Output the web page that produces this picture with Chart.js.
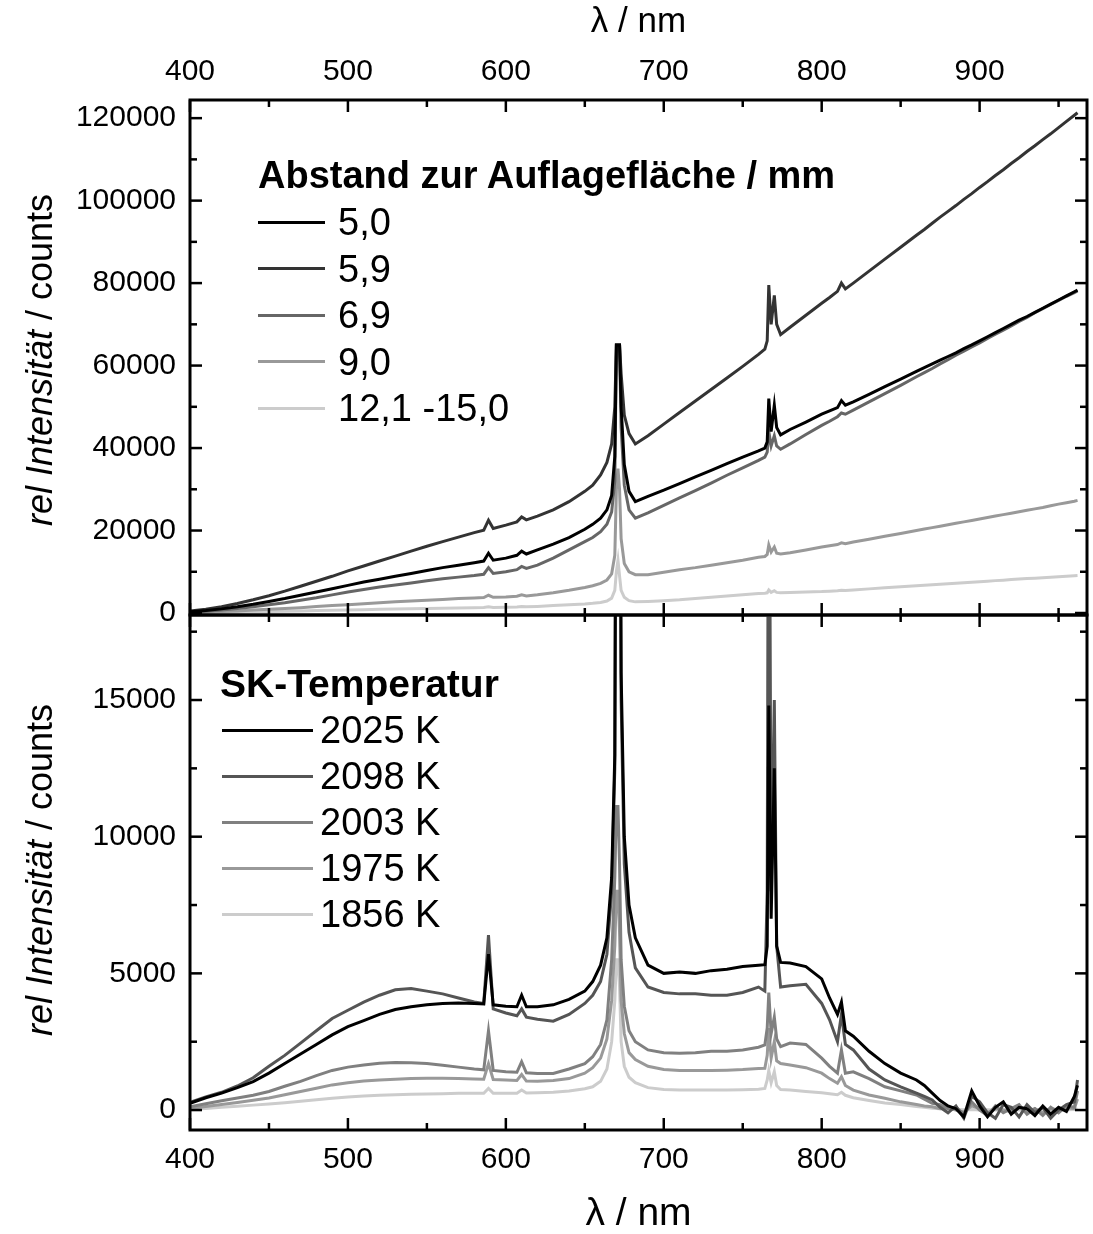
<!DOCTYPE html>
<html><head><meta charset="utf-8">
<script src="https://cdn.jsdelivr.net/npm/chart.js@4.4.1/dist/chart.umd.min.js"></script>
<style>
html,body{margin:0;padding:0;background:#fff;}
#wrap{position:relative;width:1093px;height:1234px;overflow:hidden;font-family:"Liberation Sans",Arial,sans-serif;color:#000;}
canvas{position:absolute;left:0;top:0;}
.ytitle{position:absolute;white-space:nowrap;font-size:36px;line-height:1;transform:translate(-50%,-50%) rotate(-90deg);}
.lt{position:absolute;white-space:nowrap;line-height:1;}
.ll{position:absolute;height:3px;}
</style></head><body>
<div id="wrap">
<canvas id="cTop" width="1093" height="1234"></canvas>
<canvas id="cBot" width="1093" height="1234"></canvas>
<div class="ytitle" style="left:40px;top:360px"><i>rel Intensität</i> / counts</div>
<div class="ytitle" style="left:40px;top:870px"><i>rel Intensität</i> / counts</div>
</div>
<script>
// ---------- data ----------
const wavelengths = [400,410,420,430,440,450,460,470,480,490,
500,510,520,530,540,550,560,570,580,586,
589,592,600,607,610,613,620,630,640,650,
655,660,664,667,669,670,671,672,673,675,
678,682,690,700,710,720,730,740,750,760,
764,765.5,766.5,768,770,771.5,774,780,790,800,
805,810,812.5,815,820,830,840,850,860,865,
870,875,880,885,890,895,900,905,910,915,
920,925,930,935,940,945,950,955,960,962];

// top panel: Abstand zur Auflagefläche / mm
const dist50 = [300,600,1000,1500,2100,2800,3500,4300,5100,5900,
6700,7500,8200,8900,9600,10300,11000,11600,12200,12600,
14500,12800,13300,14000,15000,14300,15300,16700,18300,20300,
21500,23000,25000,28500,38000,65000,65000,65000,50000,36000,
29500,27000,28300,29800,31400,33000,34600,36200,37800,39300,
40000,41500,52000,44000,50400,45000,43200,44500,46300,48200,
49000,49800,51500,50400,51200,53000,54900,56700,58600,59500,
60400,61300,62200,63100,64100,65000,66000,67000,68000,69000,
70000,71000,71900,72900,73900,74900,75900,76900,77900,78300];
const dist59 = [500,900,1500,2300,3200,4200,5300,6500,7700,8900,
10200,11400,12600,13800,15000,16200,17300,18400,19500,20100,
22500,20500,21300,22100,23300,22600,23500,25000,27000,29500,
31000,33500,36500,41000,50000,65000,65000,65000,58000,48000,
43500,41000,43000,45800,48600,51400,54200,57000,59800,62700,
64000,66000,79500,70000,77000,70000,67500,69300,72200,75100,
76500,78000,80000,78600,80000,82900,85800,88700,91600,93000,
94500,96000,97400,98800,100300,101700,103200,104600,106100,107500,
109000,110400,111900,113300,114800,116200,117700,119200,120700,121300];
const dist69 = [200,400,700,1100,1500,2000,2500,3100,3700,4400,
5100,5700,6300,6800,7300,7800,8300,8700,9100,9400,
11000,9600,10000,10500,11300,10800,11600,13300,15300,17300,
18300,19700,21500,24500,32000,65000,65000,65000,45000,31000,
25000,23000,24300,26100,27900,29700,31500,33400,35200,37000,
37800,39000,44000,40500,43000,40500,39700,41000,43300,45500,
46500,47600,48500,48200,49200,51200,53200,55200,57300,58300,
59300,60400,61400,62500,63500,64500,65500,66600,67600,68600,
69600,70700,71700,72800,73800,74800,75800,76800,77700,78100];
const dist90 = [100,200,350,500,700,900,1100,1300,1550,1800,
2000,2250,2500,2700,2900,3100,3300,3500,3650,3750,
4300,3800,3900,4050,4400,4150,4400,4900,5500,6200,
6600,7200,8000,9500,14000,30000,35000,30000,18000,12000,
10000,9300,9300,9900,10500,11000,11600,12200,12800,13500,
13700,14200,16500,14800,16000,14500,14300,14600,15300,16000,
16300,16600,17000,16800,17200,17900,18600,19300,20000,20350,
20700,21050,21400,21750,22100,22450,22800,23150,23500,23850,
24200,24550,24900,25250,25600,26000,26400,26750,27100,27300];
const dist121 = [50,100,150,200,280,350,430,500,580,650,
730,800,880,950,1020,1100,1170,1240,1300,1340,
1500,1360,1420,1480,1560,1500,1600,1800,2000,2200,
2350,2550,2900,3600,5500,10000,12800,9000,5500,3800,
3000,2700,2800,3000,3200,3500,3800,4100,4400,4700,
4800,4900,5600,5000,5400,5000,4900,5000,5100,5200,
5300,5400,5500,5450,5600,5850,6100,6350,6600,6720,
6850,6970,7100,7220,7350,7470,7600,7720,7850,7970,
8100,8220,8350,8450,8550,8680,8800,8920,9050,9100];

// bottom panel: SK-Temperatur
const temp2025 = [250,450,620,820,1040,1350,1700,2050,2400,2750,
3050,3270,3500,3680,3780,3850,3900,3920,3900,3880,
5700,3850,3800,3780,4200,3780,3780,3850,4050,4350,
4700,5300,6300,8500,13000,30000,30000,30000,16000,10000,
7500,6300,5300,5000,5050,5000,5100,5150,5250,5300,
5320,6000,14800,7000,12500,6000,5400,5380,5250,4800,
4100,3500,3950,2900,2700,2150,1700,1350,1100,900,
620,350,150,50,-250,700,150,-250,100,300,
-150,100,50,-200,150,-150,100,-50,500,900];
const temp2098 = [280,480,650,880,1180,1600,2000,2450,2900,3350,
3650,3950,4200,4400,4450,4350,4250,4100,3950,3900,
6400,3700,3550,3450,3700,3400,3320,3250,3500,3900,
4200,4700,5700,8000,12500,30000,30000,30000,15000,9000,
6500,5200,4500,4300,4250,4250,4200,4200,4300,4500,
4350,8000,30000,8000,15000,6000,4500,4550,4600,3900,
3300,2500,3500,2400,2200,1500,1100,850,620,500,
370,100,-100,150,-300,500,300,-100,-300,200,
100,-250,200,-100,100,-300,0,200,300,1100];
const temp2003 = [120,230,340,440,540,680,870,1050,1260,1450,
1570,1650,1710,1740,1730,1700,1640,1570,1500,1470,
2900,1450,1400,1380,1770,1360,1340,1340,1500,1700,
1950,2400,3300,5500,8500,11100,11100,9000,5500,3800,
2900,2500,2200,2100,2080,2100,2150,2150,2200,2300,
2380,3000,4300,2800,3400,2600,2320,2450,2400,1900,
1600,1350,2200,1350,1400,1150,850,700,550,400,
250,200,50,100,-150,300,0,-200,150,-100,
50,200,-150,50,-200,100,-100,150,100,700];
const temp1975 = [60,130,200,280,360,440,560,680,800,920,
1000,1060,1100,1130,1150,1160,1160,1150,1140,1130,
1700,1120,1100,1080,1300,1060,1050,1080,1150,1350,
1550,1900,2600,4000,6000,8000,8000,6500,4000,2800,
2100,1850,1600,1480,1450,1450,1450,1460,1480,1520,
1530,2000,3000,1900,2500,1800,1700,1650,1550,1350,
1150,980,1220,900,730,550,430,300,200,150,
120,50,80,0,-80,150,50,-100,50,0,
-50,100,-50,50,-100,50,0,80,50,400];
const temp1856 = [30,60,100,140,180,220,270,320,380,430,
480,510,540,560,580,590,600,610,610,610,
790,610,610,615,730,620,630,650,700,780,
850,1050,1500,2500,4000,5500,5500,4500,2500,1600,
1200,1000,820,750,730,730,730,730,740,760,
790,1100,1450,1000,1400,900,750,730,680,630,
600,560,650,540,450,350,260,200,130,100,
70,50,30,20,10,20,0,10,0,10,
0,10,0,0,10,0,0,10,20,50];

const distTitle = 'Abstand zur Auflagefläche / mm';
const distLabels = ['5,0','5,9','6,9','9,0','12,1 -15,0'];
const distSeries = [dist50, dist59, dist69, dist90, dist121];
const distColors = ['#000000','#333333','#666666','#999999','#cccccc'];

const tempTitle = 'SK-Temperatur';
const tempLabels = ['2025 K','2098 K','2003 K','1975 K','1856 K'];
const tempSeries = [temp2025, temp2098, temp2003, temp1975, temp1856];
const tempColors = ['#000000','#555555','#808080','#999999','#cccccc'];

const xMajorTicks = [400,500,600,700,800,900];
const xMinorTicks = [450,550,650,750,850,950];
const topMajorTicks = [0,20000,40000,60000,80000,100000,120000];
const topMinorTicks = [10000,30000,50000,70000,90000,110000];
const botMajorTicks = [0,5000,10000,15000];
const botMinorTicks = [2500,7500,12500,17500];
const xTitle = 'λ / nm';

// ---------- rendering ----------
Chart.defaults.font.family = '"Liberation Sans", Arial, sans-serif';
Chart.defaults.color = '#000';

const axisFrame = {
  id: 'axisFrame',
  afterDraw(chart, args, o) {
    const {ctx, chartArea: a} = chart;
    const xs = chart.scales.x, ys = chart.scales.y;
    ctx.save();
    ctx.strokeStyle = '#000';
    ctx.lineWidth = 2.5;
    const seg = (x1,y1,x2,y2)=>{ctx.beginPath();ctx.moveTo(x1,y1);ctx.lineTo(x2,y2);ctx.stroke();};
    const xt = (vals,len)=>vals.forEach(v=>{const p=xs.getPixelForValue(v); if(p<a.left-1||p>a.right+1)return; seg(p,a.top,p,a.top+len); seg(p,a.bottom,p,a.bottom-len);});
    const yt = (vals,len)=>vals.forEach(v=>{const p=ys.getPixelForValue(v); if(p<a.top-1||p>a.bottom+1)return; seg(a.left,p,a.left+len,p); seg(a.right,p,a.right-len,p);});
    xt(o.xMajor,12); xt(o.xMinor,7); yt(o.yMajor,12); yt(o.yMinor,7);
    ctx.lineWidth = 3;
    ctx.strokeRect(a.left, a.top, a.right-a.left, a.bottom-a.top);
    ctx.restore();
  }
};

function makeDatasets(series, labels, colors) {
  return series.map((vals, i) => ({
    label: labels[i],
    data: wavelengths.map((x, j) => ({x, y: vals[j]})),
    borderColor: colors[i],
    backgroundColor: colors[i],
    borderWidth: 3,
    pointRadius: 0,
    tension: 0,
    fill: false
  }));
}

const numCb = v => String(v);
const fixTicks = list => s => { s.ticks = list.map(v => ({value: v})); };

new Chart(document.getElementById('cTop'), {
  type: 'line',
  data: { datasets: makeDatasets(distSeries, distLabels, distColors) },
  options: {
    responsive: false, animation: false, events: [], devicePixelRatio: 1,
    layout: { padding: { left: 0, right: 6, top: 0, bottom: 619 } },
    plugins: { legend: { display: false }, tooltip: { enabled: false },
      axisFrame: { xMajor: xMajorTicks, xMinor: xMinorTicks, yMajor: topMajorTicks, yMinor: topMinorTicks } },
    scales: {
      x: { type: 'linear', position: 'top', min: 400, max: 968,
        grid: { display: false, drawTicks: false }, border: { display: false },
        ticks: { autoSkip: false, maxRotation: 0, padding: 13, callback: numCb,
          font: { size: 30, lineHeight: 1 }, color: '#000' },
        afterBuildTicks: fixTicks(xMajorTicks),
        title: { display: true, text: xTitle, font: { size: 35, lineHeight: 1 }, padding: { top: 5, bottom: 0 }, color: '#000' },
        afterFit: s => { s.height = 100; } },
      y: { type: 'linear', min: -485, max: 124400,
        grid: { display: false, drawTicks: false }, border: { display: false },
        ticks: { autoSkip: false, padding: 14, callback: numCb,
          font: { size: 30, lineHeight: 1 }, color: '#000' },
        afterBuildTicks: fixTicks(topMajorTicks),
        afterFit: s => { s.width = 190; } }
    }
  },
  plugins: [axisFrame]
});

new Chart(document.getElementById('cBot'), {
  type: 'line',
  data: { datasets: makeDatasets(tempSeries, tempLabels, tempColors) },
  options: {
    responsive: false, animation: false, events: [], devicePixelRatio: 1,
    layout: { padding: { left: 0, right: 6, top: 615, bottom: 0 } },
    plugins: { legend: { display: false }, tooltip: { enabled: false },
      axisFrame: { xMajor: xMajorTicks, xMinor: xMinorTicks, yMajor: botMajorTicks, yMinor: botMinorTicks } },
    scales: {
      x: { type: 'linear', position: 'bottom', min: 400, max: 968,
        grid: { display: false, drawTicks: false }, border: { display: false },
        ticks: { autoSkip: false, maxRotation: 0, padding: 15, callback: numCb,
          font: { size: 30, lineHeight: 1 }, color: '#000' },
        afterBuildTicks: fixTicks(xMajorTicks),
        title: { display: true, text: xTitle, font: { size: 39, lineHeight: 1 }, padding: { top: 0, bottom: 0 }, color: '#000' },
        afterFit: s => { s.height = 104; } },
      y: { type: 'linear', min: -730, max: 18110,
        grid: { display: false, drawTicks: false }, border: { display: false },
        ticks: { autoSkip: false, padding: 14, callback: numCb,
          font: { size: 30, lineHeight: 1 }, color: '#000' },
        afterBuildTicks: fixTicks(botMajorTicks),
        afterFit: s => { s.width = 190; } }
    }
  },
  plugins: [axisFrame]
});

// ---------- legends (real text) ----------
function buildLegend(title, labels, colors, g) {
  const wrap = document.getElementById('wrap');
  const t = document.createElement('div');
  t.className = 'lt';
  t.style.cssText = `left:${g.titleX}px;top:${g.titleY - g.titleSize/2}px;font-size:${g.titleSize}px;font-weight:bold;`;
  t.textContent = title;
  wrap.appendChild(t);
  labels.forEach((lab, i) => {
    const cy = g.rowY + i * g.rowDy;
    const l = document.createElement('div');
    l.className = 'll';
    l.style.cssText = `left:${g.lineX1}px;width:${g.lineX2-g.lineX1}px;top:${cy-1.5}px;background:${colors[i]};`;
    wrap.appendChild(l);
    const s = document.createElement('div');
    s.className = 'lt';
    s.style.cssText = `left:${g.textX}px;top:${cy - g.size/2}px;font-size:${g.size}px;`;
    s.textContent = lab;
    wrap.appendChild(s);
  });
}
buildLegend(distTitle, distLabels, distColors, {titleX:258, titleY:175, titleSize:38, size:38, rowY:222, rowDy:46.5, lineX1:258, lineX2:325, textX:338});
buildLegend(tempTitle, tempLabels, tempColors, {titleX:220, titleY:683, titleSize:39, size:38, rowY:730, rowDy:46, lineX1:222, lineX2:313, textX:320});
</script>
</body></html>
